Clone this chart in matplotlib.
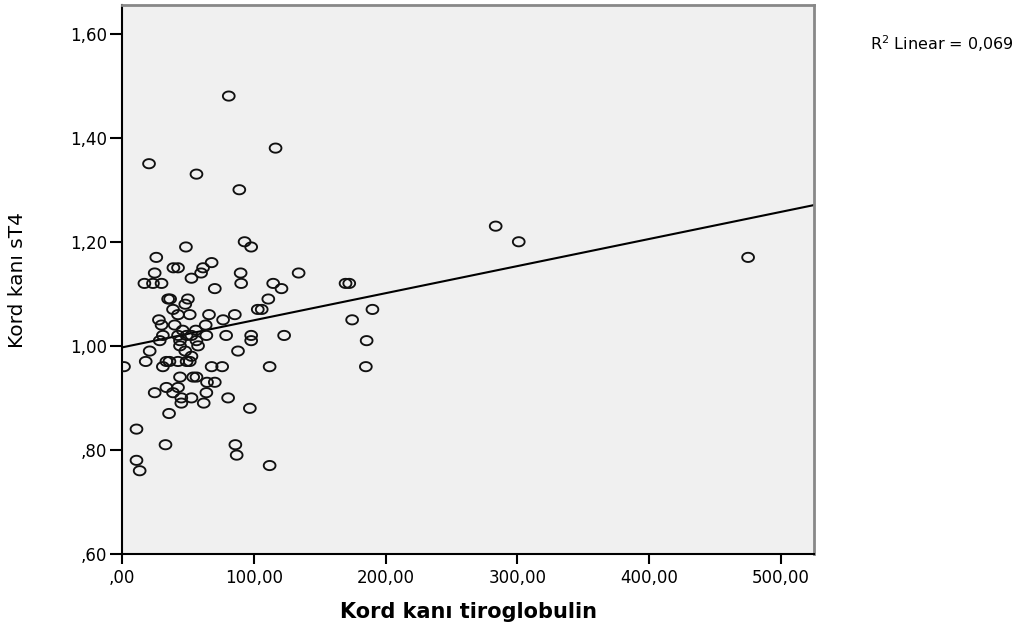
import matplotlib.pyplot as plt
import numpy as np
from matplotlib.path import Path
from matplotlib.ticker import FuncFormatter

plt.rcParams['font.family'] = ['DejaVu Sans']

# Kord kanı tiroglobulin (x) / Kord kanı sT4 (y), okunan değerler
tg = [81, 116.5, 20.5, 56.5, 89,
      283.5, 301, 475,
      93, 98, 48.5, 26, 68,
      61.5, 39, 42.5, 60, 24.8, 90, 134,
      52.7, 17, 23.5, 30, 90.4, 114.7, 169.6, 172.4,
      121, 70.4,
      35, 36.5, 50, 111,
      48,
      38.7, 103, 106, 190,
      42.5, 51.4, 66, 85.6,
      28, 76.7, 174.6,
      30, 40, 63.5,
      46, 56,
      31, 42.5, 49, 52.7, 64, 79, 98, 123,
      28.6, 44, 56.5, 98, 185.6,
      44, 57.7,
      21, 48, 88,
      52.7,
      18, 33.7, 36, 42.5, 49, 51.4,
      1.5, 31, 68, 76, 112, 185,
      44, 54, 56.5,
      64.5, 70.4,
      33.7, 42.5,
      24.8, 38.7, 64,
      45, 52.7, 80.5,
      45, 62,
      97,
      35.7,
      11,
      33, 86,
      87,
      11,
      13.4,
      112]
st4 = [1.48, 1.38, 1.35, 1.33, 1.30,
       1.23, 1.20, 1.17,
       1.20, 1.19, 1.19, 1.17, 1.16,
       1.15, 1.15, 1.15, 1.14, 1.14, 1.14, 1.14,
       1.13, 1.12, 1.12, 1.12, 1.12, 1.12, 1.12, 1.12,
       1.11, 1.11,
       1.09, 1.09, 1.09, 1.09,
       1.08,
       1.07, 1.07, 1.07, 1.07,
       1.06, 1.06, 1.06, 1.06,
       1.05, 1.05, 1.05,
       1.04, 1.04, 1.04,
       1.03, 1.03,
       1.02, 1.02, 1.02, 1.02, 1.02, 1.02, 1.02, 1.02,
       1.01, 1.01, 1.01, 1.01, 1.01,
       1.00, 1.00,
       0.99, 0.99, 0.99,
       0.98,
       0.97, 0.97, 0.97, 0.97, 0.97, 0.97,
       0.96, 0.96, 0.96, 0.96, 0.96, 0.96,
       0.94, 0.94, 0.94,
       0.93, 0.93,
       0.92, 0.92,
       0.91, 0.91, 0.91,
       0.90, 0.90, 0.90,
       0.89, 0.89,
       0.88,
       0.87,
       0.84,
       0.81, 0.81,
       0.79,
       0.78,
       0.76,
       0.77]

# doğrusal uyum çizgisi
fit_intercept = 0.997
fit_slope = 0.000521
r2_text = "R$^2$ Linear = 0,069"

x_ticks = [0, 100, 200, 300, 400, 500]
y_ticks = [0.60, 0.80, 1.00, 1.20, 1.40, 1.60]
x_max = 525
y_max = 1.655


def tr_fmt(v, pos):
    s = f"{v:.2f}".replace('.', ',')
    if s.startswith('0,'):
        s = s[1:]
    return s


fig = plt.figure(figsize=(10.27, 6.32), dpi=100)
ax = fig.add_axes([122 / 1027, 1 - 554 / 632, (814 - 122) / 1027, (554 - 5) / 632])
ax.set_facecolor('#F0F0F0')

# hafif yatık elips marker
t = np.linspace(0, 2 * np.pi, 60)
ell = Path(np.column_stack([np.cos(t), 0.78 * np.sin(t)]), closed=True)
ax.scatter(tg, st4, marker=ell, s=72, facecolors='none', edgecolors='#111111',
           linewidths=1.35, zorder=3)

xs = np.array([0, x_max])
ax.plot(xs, fit_intercept + fit_slope * xs, color='black', lw=1.5, zorder=2)

ax.set_xlim(0, x_max)
ax.set_ylim(0.60, y_max)
ax.set_xticks(x_ticks)
ax.set_yticks(y_ticks)
ax.xaxis.set_major_formatter(FuncFormatter(tr_fmt))
ax.yaxis.set_major_formatter(FuncFormatter(tr_fmt))
ax.tick_params(axis='x', direction='out', length=7.5, width=1.5, labelsize=12, pad=3)
ax.tick_params(axis='y', direction='out', length=8.5, width=1.5, labelsize=12, pad=2)

for side in ['left', 'bottom']:
    ax.spines[side].set_color('black')
    ax.spines[side].set_linewidth(1.5)
for side in ['top', 'right']:
    ax.spines[side].set_color('#888888')
    ax.spines[side].set_linewidth(2)

ax.set_xlabel('Kord kanı tiroglobulin', fontsize=15, fontweight='bold')
ax.xaxis.set_label_coords(0.5, (554 - 612) / 549)
ax.xaxis.label.set_va('center')
ax.set_ylabel('Kord kanı sT4', fontsize=14.5)
ax.yaxis.set_label_coords((18 - 122) / 692, 0.5)
ax.yaxis.label.set_va('center')

fig.text(870 / 1027, 1 - 44 / 632, r2_text, fontsize=11.5, va='center', ha='left')

fig.savefig('out.png', dpi=100)
